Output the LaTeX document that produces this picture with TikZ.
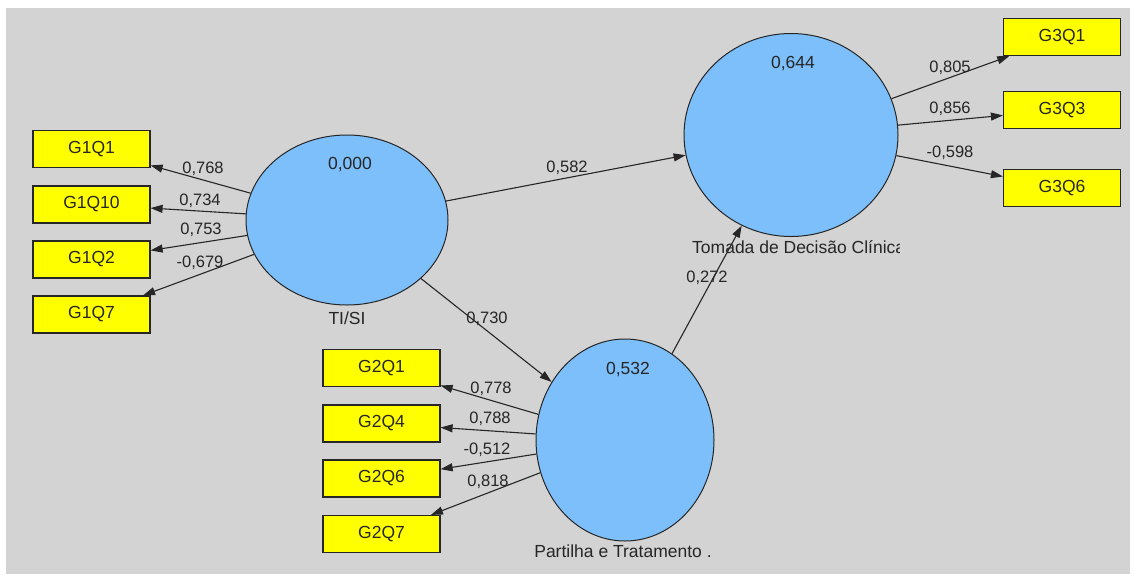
\documentclass[tikz,border=0pt]{standalone}
\usepackage{fontspec}
\setmainfont{Liberation Sans}
\usetikzlibrary{shapes.geometric,arrows.meta}
\definecolor{canvas}{HTML}{D3D3D3}
\definecolor{latentfill}{HTML}{7DBFFA}
\definecolor{itemfill}{HTML}{FFFF00}
\definecolor{ink}{HTML}{262626}

\begin{document}
\begin{tikzpicture}[x=1pt,y=-1pt,
  latent/.style={ellipse,draw=ink,line width=1pt,fill=latentfill,inner sep=0pt},
  item/.style={rectangle,draw=ink,line width=1.2pt,fill=itemfill,minimum width=117pt,
    minimum height=37pt,inner sep=0pt,text=ink,font=\fontsize{17.5}{18}\selectfont},
  link/.style={draw=ink,line width=1.1pt,-{Triangle[length=12pt,width=8pt]}},
  coef/.style={inner sep=0pt,text=ink,font=\fontsize{16.5}{18}\selectfont},
  caption/.style={inner sep=0pt,text=ink,font=\fontsize{17.5}{18}\selectfont}]

\useasboundingbox (0,0) rectangle (1135,574);
\fill[canvas] (6,8) rectangle (1130,574);

% latent variables
\node[latent,minimum width=202pt,minimum height=170pt] (tisi) at (347,220) {};
\node[latent,minimum width=214pt,minimum height=203pt] (tdc) at (791,135) {};
\node[latent,minimum width=178pt,minimum height=202pt] (ptr) at (625,440) {};

% R squared values
\node[caption] (r1) at (350,165) {0,000};
\node[caption] (r2) at (793,64) {0,644};
\node[caption] (r3) at (628,370) {0,532};

% construct names
\node[caption] (n1) at (347,318) {TI/SI};
\node[caption] (n3) at (623,551) {Partilha e Tratamento .};
\begin{scope}
  \clip (690,232) rectangle (899,264);
  \node[caption,anchor=west] (n2) at (692,247) {Tomada de Decisão Clínica};
\end{scope}

% indicators
\node[item] (g1q1)  at (91.5,149)   {G1Q1};
\node[item] (g1q10) at (91.5,204.5) {G1Q10};
\node[item] (g1q2)  at (91.5,259.5) {G1Q2};
\node[item] (g1q7)  at (91.5,314.5) {G1Q7};

\node[item] (g2q1) at (381.5,368)   {G2Q1};
\node[item] (g2q4) at (381.5,423.5) {G2Q4};
\node[item] (g2q6) at (381.5,478.5) {G2Q6};
\node[item] (g2q7) at (381.5,534)   {G2Q7};

\node[item] (g3q1) at (1062,37)  {G3Q1};
\node[item] (g3q3) at (1062,110) {G3Q3};
\node[item] (g3q6) at (1062,188) {G3Q6};

% structural paths
\draw[link] (tisi) -- (tdc);
\draw[link] (tisi) -- (ptr);
\draw[link] (ptr) -- (tdc);

% measurement paths
\foreach \t in {g1q1,g1q10,g1q2,g1q7} \draw[link] (tisi) -- (\t);
\foreach \t in {g2q1,g2q4,g2q6,g2q7} \draw[link] (ptr) -- (\t);
\foreach \t in {g3q1,g3q3,g3q6} \draw[link] (tdc) -- (\t);

% path coefficients
\node[coef] (c1) at (567,168) {0,582};
\node[coef] (c2) at (487,319) {0,730};
\node[coef] (c3) at (707,278) {0,272};

\node[coef] (l11) at (203,169) {0,768};
\node[coef] (l12) at (200,201) {0,734};
\node[coef] (l13) at (201,230) {0,753};
\node[coef] (l14) at (200,263) {-0,679};

\node[coef] (l21) at (491,389) {0,778};
\node[coef] (l22) at (490,419) {0,788};
\node[coef] (l23) at (487,450) {-0,512};
\node[coef] (l24) at (488,482) {0,818};

\node[coef] (l31) at (950,68)  {0,805};
\node[coef] (l32) at (950,109) {0,856};
\node[coef] (l33) at (950,153) {-0,598};
\end{tikzpicture}
\end{document}
